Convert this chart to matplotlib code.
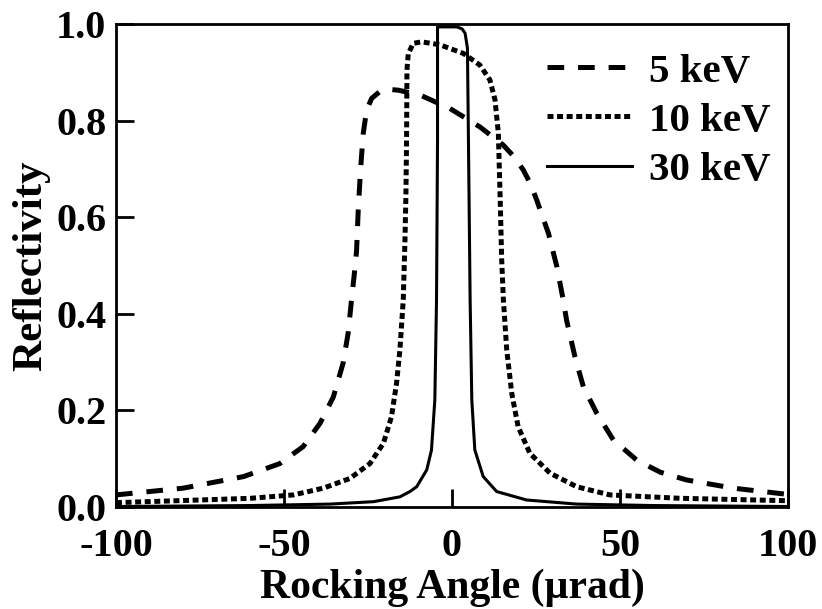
import matplotlib
matplotlib.use('Agg')
import matplotlib.pyplot as plt

# Reflectivity curves
x_5kev = [-100, -80, -62, -51.2, -44.3, -39.3, -35.3, -32.4, -30.9, -29.9, -29.1, -28.4,
          -27.9, -27.2, -26.4, -25.4, -23.9, -21.5, -19.4, -16, -9.5, -0.6, 8.3, 15.3,
          18.5, 21.2, 23.3, 25.2, 27, 28.7, 31.2, 33.1, 34.1, 36.6, 39.1, 43.1, 48.0,
          55, 62, 69.8, 83.7, 100]
y_5kev = [0.025, 0.039, 0.063, 0.090, 0.125, 0.173, 0.228, 0.298, 0.360, 0.429, 0.48, 0.53,
          0.615, 0.70, 0.774, 0.822, 0.846, 0.860, 0.865, 0.863, 0.853, 0.825, 0.787, 0.749,
          0.725, 0.698, 0.670, 0.636, 0.600, 0.567, 0.498, 0.429, 0.387, 0.311, 0.249, 0.194, 0.139,
          0.097, 0.072, 0.056, 0.039, 0.026]

x_10kev = [-100, -75, -60, -47.2, -38.3, -30.4, -24.4, -20.4, -18.0, -16.5, -15.5, -14.5,
           -14.0, -13.7, -13.5, -13.4, -13.0, -11.5, -9.0, -3.6, 3.4, 8.3, 11.3, 12.8,
           13.8, 14.3, 14.8, 15.3, 16.3, 17.8, 19.7, 23.2, 29.2, 37.1, 47, 67.9, 100]
y_10kev = [0.009, 0.0145, 0.018, 0.025, 0.039, 0.059, 0.090, 0.132, 0.187, 0.256, 0.325, 0.429,
           0.55, 0.65, 0.774, 0.905, 0.939, 0.960, 0.963, 0.957, 0.939, 0.915, 0.884, 0.843,
           0.774, 0.65, 0.511, 0.429, 0.325, 0.235, 0.166, 0.111, 0.070, 0.042, 0.025, 0.018, 0.013]

x_30kev = [-100, -60, -36.3, -23.4, -15.5, -12.5, -10.5, -7.5, -6.1, -5.1, -4.6, -4.3,
           -4.3, 1.4, 3.0, 3.9, 4.6, 4.9, 5.4, 5.9, 6.8, 9.3, 13.3, 22.2, 37.1, 60, 100]
y_30kev = [0.001, 0.003, 0.006, 0.011, 0.021, 0.032, 0.042, 0.077, 0.118, 0.222, 0.429, 0.76,
           0.994, 0.994, 0.990, 0.981, 0.95, 0.76, 0.429, 0.222, 0.118, 0.063, 0.032, 0.0145,
           0.006, 0.003, 0.001]

x_ticks = [-100, -50, 0, 50, 100]
y_ticks = [0.0, 0.2, 0.4, 0.6, 0.8, 1.0]
labels = ['5 keV', '10 keV', '30 keV']

plt.rcParams['font.family'] = ['Liberation Serif', 'DejaVu Serif']
plt.rcParams['font.weight'] = 'bold'
plt.rcParams['axes.unicode_minus'] = False
plt.rcParams['lines.scale_dashes'] = False

TICK_FONTSIZE = 29
LABEL_FONTSIZE = 30
LEGEND_FONTSIZE = 29.5

fig = plt.figure(figsize=(8.22, 6.09), dpi=100)
ax = fig.add_axes([0.1411, 0.1675, 0.8175, 0.7931])

ax.plot(x_5kev, y_5kev, color='black', lw=3.6, linestyle=(0, (12, 10)),
        dash_capstyle='butt', label=labels[0])
ax.plot(x_10kev, y_10kev, color='black', lw=3.6, linestyle=(0, (4.3, 2.6)),
        dash_capstyle='butt', label=labels[1])
ax.plot(x_30kev, y_30kev, color='black', lw=2.2, linestyle='-', label=labels[2])

ax.set_xlim(-100, 100)
ax.set_ylim(0, 1.0)
ax.set_xticks(x_ticks)
ax.set_yticks(y_ticks)
ax.set_xticklabels([str(t) for t in x_ticks])
ax.set_yticklabels(['%.1f' % t for t in y_ticks])
ax.tick_params(direction='in', length=13, width=2, labelsize=TICK_FONTSIZE)
ax.tick_params(axis='x', pad=15)
ax.tick_params(axis='y', pad=7)
for spine in ax.spines.values():
    spine.set_linewidth(2)

ax.set_xlabel('Rocking Angle (µrad)', fontsize=LABEL_FONTSIZE, fontweight='bold', labelpad=3)
ax.set_ylabel('Reflectivity', fontsize=31, fontweight='bold', labelpad=4)

ax.legend(loc='upper left', bbox_to_anchor=(0.641, 0.94), frameon=False,
          fontsize=LEGEND_FONTSIZE, handlelength=2.07, handletextpad=0.42,
          labelspacing=0.28, borderpad=0, borderaxespad=0)

plt.savefig('out.png', dpi=100)
plt.close()
